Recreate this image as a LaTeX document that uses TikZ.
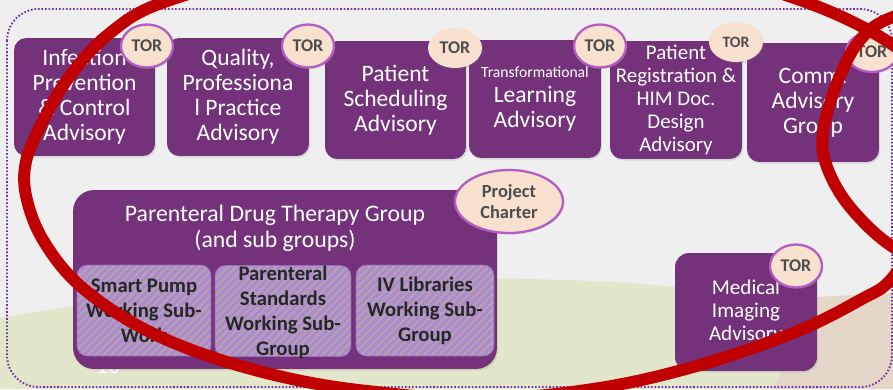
\documentclass[tikz,border=0pt]{standalone}
\usepackage{fontspec}
\setmainfont{Carlito}
\usetikzlibrary{shapes.geometric,shadows}

\definecolor{slidebg}{HTML}{EFEFEF}
\definecolor{boxpurple}{HTML}{73327A}
\definecolor{torfill}{HTML}{F9E1CF}
\definecolor{torline}{HTML}{B35DC2}
\definecolor{torink}{HTML}{4D4D4D}
\definecolor{framepurple}{HTML}{7030A0}
\definecolor{hatchpurple}{HTML}{B484D6}
\definecolor{hatchgrey}{HTML}{ABA6AD}
\definecolor{subink}{HTML}{262626}
\definecolor{greenland}{HTML}{E2E7CB}
\definecolor{tanland}{HTML}{E4D6C9}
\definecolor{markred}{HTML}{C00000}

\tikzset{
  advbox/.style={rectangle, rounded corners=7pt, fill=boxpurple, text=white, align=center,
    inner sep=0pt, minimum width=2.82cm, minimum height=2.36cm,
    font=\fontsize{13.4}{14.2}\selectfont,
    drop shadow={opacity=0.2, shadow xshift=0.7pt, shadow yshift=-0.9pt}},
  torbadge/.style={ellipse, fill=torfill, draw=torline, line width=1.3pt, inner sep=0pt,
    align=center, minimum width=1.04cm, minimum height=0.86cm, text=torink,
    font=\bfseries\fontsize{10.2}{12}\selectfont,
    drop shadow={opacity=0.2, shadow xshift=0.7pt, shadow yshift=-0.9pt}},
  plainbadge/.style={torbadge, draw=none},
  subgroup/.style={rectangle, rounded corners=6pt, inner sep=0pt, minimum height=1.82cm,
    draw=hatchpurple!70!boxpurple, line width=0.4pt,
    path picture={
      \fill[hatchgrey] (path picture bounding box.south west) rectangle (path picture bounding box.north east);
      \foreach \k in {-90,-85.5,...,90}
        \draw[hatchpurple, line width=1.6pt] ([xshift=\k pt]path picture bounding box.center) +(-45pt,-45pt) -- +(45pt,45pt);
    }},
  subtext/.style={text=subink, align=center, inner sep=0pt, font=\bfseries\fontsize{11.8}{14.2}\selectfont},
  dottedframe/.style={draw=framepurple, line width=1.1pt, dash pattern=on 0.9pt off 1.1pt, rounded corners=18pt},
  redmark/.style={draw=markred, line width=6.8pt, line join=round}
}

\begin{document}
\begin{tikzpicture}[x=0.02cm, y=-0.02cm]

	\useasboundingbox (0,0) rectangle (893,389);
	\clip (0,0) rectangle (893,389);
	\fill[slidebg] (0,0) rectangle (893,389);

	%slide background landscape
	\fill[greenland] (0,389) -- (0,318) .. controls (150,290) and (350,278) .. (520,279)
		.. controls (600,280) and (650,284) .. (700,289) -- (800,300) -- (800,389) -- cycle;
	\fill[tanland] (773,389) -- (815,297) -- (893,293) -- (893,389) -- cycle;

	\draw[dottedframe] (7,9) rectangle (892,387);

	\node[text=white, font=\fontsize{14}{16}\selectfont] (slideno) at (108,366) {10}; %slide number, mostly hidden

	%parenteral drug therapy group and its sub groups
	\node[advbox, rounded corners=12pt, minimum width=8.48cm, minimum height=3.58cm] (pdt) at (285,279.5) {};
	\node[text=white, align=center, inner sep=0pt, font=\fontsize{13.5}{14.7}\selectfont] (pdt-title) at (275,228) {Parenteral Drug Therapy Group\\(and sub groups)};

	\node[subgroup, minimum width=2.68cm] (pump) at (144,310.5) {};
	\node[subgroup, minimum width=2.72cm] (standards) at (283,311) {};
	\node[subgroup, minimum width=2.76cm] (libraries) at (425,310.5) {};
	\node[subtext] (pump-text) at (pump) {Smart Pump\\Working Sub-\\Work};
	\node[subtext] (standards-text) at ([yshift=-1pt]standards) {Parenteral\\Standards\\Working Sub-\\Group};
	\node[subtext] (libraries-text) at (libraries) {IV Libraries\\Working Sub-\\Group};

	%top row of advisories
	\node[advbox] (infection) at (84.5,97) {Infection\\Prevention\\\& Control\\Advisory};
	\node[advbox, minimum width=2.84cm] (quality) at (238,97) {Quality,\\Professiona\\l Practice\\Advisory};
	\node[advbox] (scheduling) at (395.5,100) {Patient\\Scheduling\\Advisory};
	\node[advbox, minimum width=2.64cm] (learning) at (535,99) {{\fontsize{8.9}{11}\selectfont Transformational}\\Learning\\Advisory};
	\node[advbox, minimum width=2.64cm, font=\fontsize{11.9}{13}\selectfont] (registration) at (676,100) {Patient\\Registration \&\\HIM Doc.\\Design\\Advisory};
	\node[advbox, minimum width=2.64cm, minimum height=2.38cm] (comm) at (813,102.5) {Comm.\\Advisory\\Group};

	\node[advbox, minimum width=2.84cm, rounded corners=8pt, font=\fontsize{12}{13}\selectfont] (imaging) at (746,312) {Medical\\Imaging\\Advisory};

	%badges
	\node[torbadge] (tor-infection) at (147,46) {TOR};
	\node[torbadge] (tor-quality) at (308,46) {TOR};
	\node[plainbadge, minimum width=1.08cm, minimum height=0.8cm] (tor-scheduling) at (455,48) {TOR};
	\node[torbadge] (tor-learning) at (600,46) {TOR};
	\node[plainbadge, minimum width=1.08cm, minimum height=0.8cm, font=\bfseries\fontsize{9}{11}\selectfont] (tor-registration) at (736,42) {TOR};
	\node[torbadge, minimum height=0.8cm] (tor-comm) at (872,52) {TOR};
	\node[torbadge] (tor-imaging) at (796,266) {TOR};
	\node[torbadge, minimum width=2.16cm, minimum height=1.26cm, font=\bfseries\fontsize{10.5}{12}\selectfont] (charter) at (509,201.5) {Project\\Charter};

	%red hand drawn rings over the slide
	\draw[redmark] plot[smooth cycle, tension=0.6] coordinates {
		(170,0) (110,33) (67,80) (37,133) (25,167) (27,200) (43,240) (77,283) (133,323)
		(200,353) (283,377) (367,391) (480,399) (593,389) (693,367) (793,333) (860,300)
		(893,277) (930,215) (940,150) (925,85) (893,45) (800,0) (650,-40) (480,-52) (320,-38)};
	\draw[redmark] plot[smooth cycle, tension=0.6] coordinates {
		(893,17) (860,40) (837,83) (823,133) (827,167) (850,207) (893,247) (950,272)
		(1020,260) (1060,150) (1030,40) (960,2)};

\end{tikzpicture}
\end{document}
